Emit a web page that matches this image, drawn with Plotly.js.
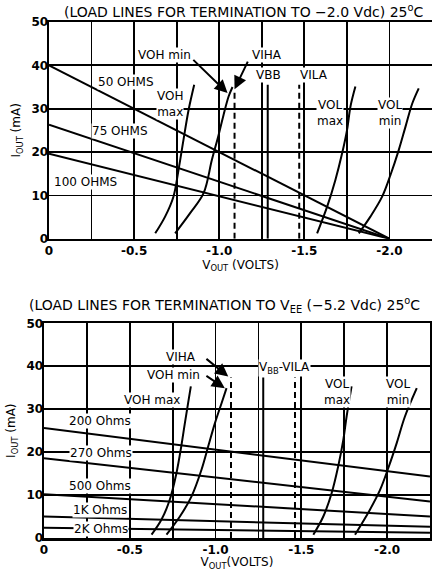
<!DOCTYPE html>
<html>
<head>
<meta charset="utf-8">
<script src="https://cdn.plot.ly/plotly-3.0.1.min.js"></script>
<style>html,body{margin:0;padding:0;background:#fff;}#chart{width:432px;height:571px;}</style>
</head>
<body>
<div id="chart"></div>
<script>
// ---------- tick labels ----------
const xTickVals = [0, -0.5, -1.0, -1.5, -2.0];
const xTickText = ['0', '-0.5', '-1.0', '-1.5', '-2.0'];
const xGridStep = 0.25;
const yTickVals = [0, 10, 20, 30, 40, 50];

// ---------- TOP: termination to -2.0 Vdc ----------
const topLoadNames = ['50 OHMS', '75 OHMS', '100 OHMS'];
const topLoadX = [0, -2.0];
const topLoad50 = [40, 0];
const topLoad75 = [26.3, 0];
const topLoad100 = [19.6, 0];

const topVohMaxX = [-0.624, -0.682, -0.731, -0.761, -0.790, -0.820, -0.853];
const topVohMaxY = [1.25, 5.1, 9.7, 15.9, 22.8, 29.7, 35.5];
const topVohMinX = [-0.741, -0.829, -0.908, -0.957, -0.996, -1.025, -1.055, -1.078];
const topVohMinY = [1.25, 5.9, 10.5, 18.2, 23.9, 28.5, 32.8, 35.0];
const topVolMaxX = [-1.575, -1.634, -1.682, -1.722, -1.751, -1.771, -1.800];
const topVolMaxY = [1.25, 7.4, 13.5, 19.7, 25.1, 30.5, 35.1];
const topVolMinX = [-1.820, -1.888, -1.957, -2.006, -2.055, -2.094, -2.134, -2.172];
const topVolMinY = [1.25, 5.1, 9.7, 14.7, 20.5, 25.8, 31.2, 34.7];

// reference levels: VIHA (dashed), VBB (solid), VILA (dashed)
const topRefV = [-1.09, -1.285, -1.47];
const topRefTop = [34.3, 35.5, 35.5];

// ---------- BOTTOM: termination to VEE (-5.2 Vdc) ----------
const botLoadNames = ['200 Ohms', '270 Ohms', '500 Ohms', '1K Ohms', '2K Ohms'];
const botLoadX = [0, -2.25];
const botLoad200 = [25.6, 14.3];
const botLoad270 = [18.6, 8.5];
const botLoad500 = [10.2, 5.0];
const botLoad1K = [5.0, 2.6];
const botLoad2K = [2.4, 1.2];

const botVohMaxX = [-0.627, -0.685, -0.733, -0.772, -0.800, -0.821, -0.840, -0.856];
const botVohMaxY = [0.77, 4.3, 8.9, 15.1, 21.3, 26.7, 31.4, 35.3];
const botVohMinX = [-0.714, -0.792, -0.860, -0.918, -0.957, -0.996, -1.035, -1.064];
const botVohMinY = [0.77, 5.0, 9.7, 15.9, 21.3, 26.7, 31.4, 34.9];
const botVolMaxX = [-1.570, -1.628, -1.677, -1.715, -1.745, -1.764, -1.793];
const botVolMaxY = [0.77, 5.0, 10.5, 16.7, 22.9, 28.3, 35.3];
const botVolMinX = [-1.813, -1.900, -1.959, -2.007, -2.056, -2.104, -2.173];
const botVolMinY = [0.77, 6.6, 11.2, 16.3, 22.1, 28.3, 34.9];

const botRefV = [-1.09, -1.278, -1.463];
const botRefTop = [37.4, 37.4, 37.4];

// ---------- build traces ----------
const FONT = 'DejaVu Sans';
const traces = [];
function line(x, y, xa, ya, opts) {
  traces.push(Object.assign({
    type: 'scatter', mode: 'lines', x: x, y: y, xaxis: xa, yaxis: ya,
    hoverinfo: 'skip', showlegend: false,
    line: {color: '#000', width: 2}
  }, opts || {}));
}
const curve = {line: {color: '#000', width: 2, shape: 'spline'}};
// top
line(topLoadX, topLoad50, 'x', 'y');
line(topLoadX, topLoad75, 'x', 'y');
line(topLoadX, topLoad100, 'x', 'y');
line(topVohMaxX, topVohMaxY, 'x', 'y', curve);
line(topVohMinX, topVohMinY, 'x', 'y', curve);
line(topVolMaxX, topVolMaxY, 'x', 'y', curve);
line(topVolMinX, topVolMinY, 'x', 'y', curve);
topRefV.forEach(function (v, i) {
  line([v, v], [0, topRefTop[i]], 'x', 'y', {line: {color: '#000', width: 2, dash: i === 1 ? 'solid' : '6px,4px'}});
});
// bottom
[botLoad200, botLoad270, botLoad500, botLoad1K, botLoad2K].forEach(function (ys) {
  line(botLoadX, ys, 'x2', 'y2');
});
line(botVohMaxX, botVohMaxY, 'x2', 'y2', curve);
line(botVohMinX, botVohMinY, 'x2', 'y2', curve);
line(botVolMaxX, botVolMaxY, 'x2', 'y2', curve);
line(botVolMinX, botVolMinY, 'x2', 'y2', curve);
botRefV.forEach(function (v, i) {
  line([v, v], [0, botRefTop[i]], 'x2', 'y2', {line: {color: '#000', width: 2, dash: i === 1 ? 'solid' : '6px,4px'}});
});

// ---------- annotations ----------
function lbl(text, x, y, xa, ya) {
  return {text: text, x: x, y: y, xref: xa, yref: ya, showarrow: false,
    font: {family: FONT, size: 12, color: '#000'}, bgcolor: '#fff', borderpad: 0,
    xanchor: 'center', yanchor: 'middle'};
}
function arrow(x0, y0, x1, y1, xa, ya) {
  return {text: '', x: x1, y: y1, ax: x0, ay: y0, xref: xa, yref: ya, axref: xa, ayref: ya,
    showarrow: true, arrowhead: 2, arrowsize: 1.3, arrowwidth: 2, arrowcolor: '#000',
    standoff: 0, startstandoff: 0};
}
const annotations = [
  // titles
  {text: '(LOAD LINES FOR TERMINATION TO \u22122.0 Vdc) 25<sup>o</sup>C', xref: 'paper', yref: 'paper',
    x: 0.514, y: 1.021, showarrow: false, xanchor: 'center', yanchor: 'middle',
    font: {family: FONT, size: 14, color: '#000'}},
  {text: '(LOAD LINES FOR TERMINATION TO V<sub>EE</sub> (\u22125.2 Vdc) 25<sup>o</sup>C', xref: 'paper', yref: 'paper',
    x: 0.466, y: 0.452, showarrow: false, xanchor: 'center', yanchor: 'middle',
    font: {family: FONT, size: 14, color: '#000'}},
  // top labels
  lbl(topLoadNames[0], -0.453, 36.2, 'x', 'y'),
  lbl(topLoadNames[1], -0.418, 24.9, 'x', 'y'),
  lbl(topLoadNames[2], -0.212, 13.2, 'x', 'y'),
  lbl('VOH<br>max', -0.712, 31.1, 'x', 'y'),
  lbl('VOH min', -0.676, 42.4, 'x', 'y'),
  lbl('VIHA', -1.281, 42.4, 'x', 'y'),
  lbl('VBB', -1.288, 37.8, 'x', 'y'),
  lbl('VILA', -1.559, 37.8, 'x', 'y'),
  lbl('VOL<br>max', -1.653, 29.1, 'x', 'y'),
  lbl('VOL<br>min', -2.006, 29.1, 'x', 'y'),
  arrow(-0.839, 41.6, -1.049, 33.6, 'x', 'y'),
  arrow(-1.172, 41.2, -1.09, 34.5, 'x', 'y'),
  // bottom labels
  lbl(botLoadNames[0], -0.325, 27.3, 'x2', 'y2'),
  lbl(botLoadNames[1], -0.331, 19.8, 'x2', 'y2'),
  lbl(botLoadNames[2], -0.325, 12.0, 'x2', 'y2'),
  lbl(botLoadNames[3], -0.325, 6.6, 'x2', 'y2'),
  lbl(botLoadNames[4], -0.331, 2.1, 'x2', 'y2'),
  lbl('VIHA', -0.798, 42.2, 'x2', 'y2'),
  lbl('VOH min', -0.757, 38.0, 'x2', 'y2'),
  lbl('VOH max', -0.628, 32.2, 'x2', 'y2'),
  lbl('V<sub>BB</sub>-VILA', -1.399, 39.6, 'x2', 'y2'),
  lbl('VOL<br>max', -1.708, 34.1, 'x2', 'y2'),
  lbl('VOL<br>min', -2.061, 34.1, 'x2', 'y2'),
  arrow(-0.938, 42.0, -1.074, 37.6, 'x2', 'y2'),
  arrow(-0.938, 38.0, -1.054, 34.9, 'x2', 'y2')
];

function xAxis(domain, anchor, title) {
  return {domain: domain, anchor: anchor, range: [0, -2.25], tickmode: 'array',
    tickvals: xTickVals, ticktext: xTickText, showgrid: true, gridcolor: '#000', gridwidth: 1.7,
    minor: {tick0: 0, dtick: xGridStep, showgrid: true, gridcolor: '#000', gridwidth: 1.7, ticks: ''},
    zeroline: false, showline: true, linecolor: '#000', linewidth: 2.5, mirror: true, ticks: '',
    ticklabelstandoff: -1,
    tickfont: {family: FONT, size: 12, color: '#000', weight: 'bold'},
    title: {text: title, font: {family: FONT, size: 12, color: '#000'}, standoff: 0}};
}
function yAxis(domain, anchor) {
  return {domain: domain, anchor: anchor, range: [0, 50], tickmode: 'array', tickvals: yTickVals,
    showgrid: true, gridcolor: '#000', gridwidth: 1.7, zeroline: false, showline: true,
    linecolor: '#000', linewidth: 2.5, mirror: true, ticks: '', ticklabelstandoff: -4,
    tickfont: {family: FONT, size: 12, color: '#000', weight: 'bold'},
    title: {text: 'I<sub>OUT</sub> (mA)', font: {family: FONT, size: 12, color: '#000'}, standoff: 8}};
}

const layout = {
  width: 432, height: 571, paper_bgcolor: '#fff', plot_bgcolor: '#fff',
  margin: {l: 44, r: 0, t: 22, b: 33}, showlegend: false,
  font: {family: FONT, color: '#000'},
  xaxis: xAxis([0.0129, 1], 'y', 'V<sub>OUT</sub> (VOLTS)'),
  yaxis: yAxis([0.580, 1], 'x'),
  xaxis2: xAxis([0.0, 0.9948], 'y2', 'V<sub>OUT</sub>(VOLTS)'),
  yaxis2: yAxis([0.0, 0.416], 'x2'),
  annotations: annotations
};

Plotly.newPlot('chart', traces, layout, {staticPlot: true, displayModeBar: false});
</script>
</body>
</html>
